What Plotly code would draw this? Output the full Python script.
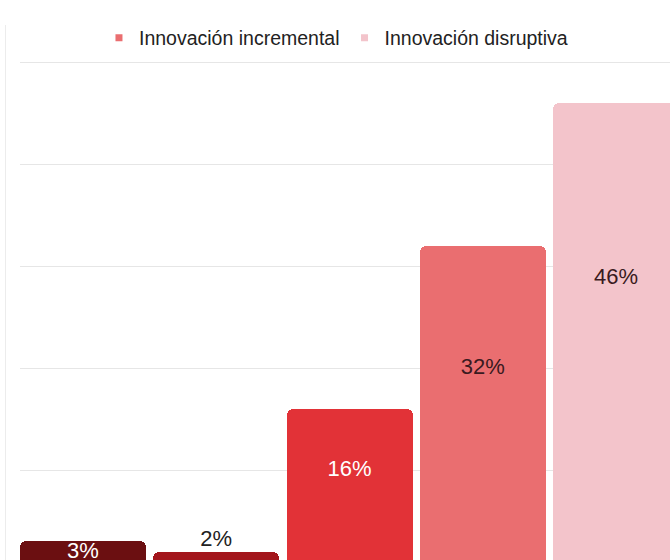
import plotly.graph_objects as go

# ---- data ----
values = [3, 2, 16, 32, 46]
bar_colors = ["#6b0f11", "#a3161c", "#e23237", "#ea6e70", "#f3c4cb"]
label_colors = ["#ffffff", "#222222", "#ffffff", "#3a1a20", "#3a1a20"]
label_inside = [True, False, True, True, True]
legend_names = ["Innovación incremental", "Innovación disruptiva"]
legend_colors = ["#ea6e70", "#f3c4cb"]

LABEL_FRAC = 0.625
positions = list(range(len(values)))
labels = [f"{v}%" for v in values]
label_y = [v * LABEL_FRAC if ins else v for v, ins in zip(values, label_inside)]
label_pos = ["middle center" if ins else "top center" for ins in label_inside]

FONT = "Liberation Sans, Arial, sans-serif"

fig = go.Figure()
fig.add_trace(go.Bar(
    x=positions, y=values, width=0.9456,
    marker=dict(color=bar_colors, line=dict(width=0), cornerradius=6),
    showlegend=False, hoverinfo="skip",
))
fig.add_trace(go.Scatter(
    x=positions, y=label_y, mode="text", text=labels,
    textposition=label_pos,
    textfont=dict(family=FONT, size=22, color=label_colors),
    showlegend=False, hoverinfo="skip",
))
for name, col in zip(legend_names, legend_colors):
    fig.add_trace(go.Scatter(
        x=[None], y=[None], mode="markers", name=name,
        marker=dict(symbol="square", size=7, color=col),
    ))

fig.update_layout(
    width=670, height=560,
    margin=dict(l=20, r=0, t=55, b=0, autoexpand=False),
    paper_bgcolor="white", plot_bgcolor="white",
    font=dict(family=FONT, color="#222222"),
    legend=dict(orientation="h", x=0.1215, xanchor="left", y=1.0337, yanchor="middle",
                font=dict(family=FONT, size=19.5, color="#222222"),
                bgcolor="rgba(0,0,0,0)", itemclick=False),
    xaxis=dict(range=[-0.4728, -0.4728 + 650 / 133.25], showgrid=False, zeroline=False,
               showticklabels=False, ticks="", showline=False),
    yaxis=dict(range=[1.176, 50.69], tickvals=[10, 20, 30, 40, 50], showticklabels=False,
               ticks="", showgrid=True, gridcolor="#e6e6e6", gridwidth=1, zeroline=False,
               showline=False),
    shapes=[dict(type="line", xref="paper", yref="paper", x0=-0.0223, x1=-0.0223,
                 y0=0, y1=1.0594, line=dict(color="#ececec", width=1))],
    bargap=0,
)

fig.write_html(
    "out.html",
    config={"displayModeBar": False},
    post_script="document.body.style.margin='0';document.body.style.overflow='hidden';",
)
